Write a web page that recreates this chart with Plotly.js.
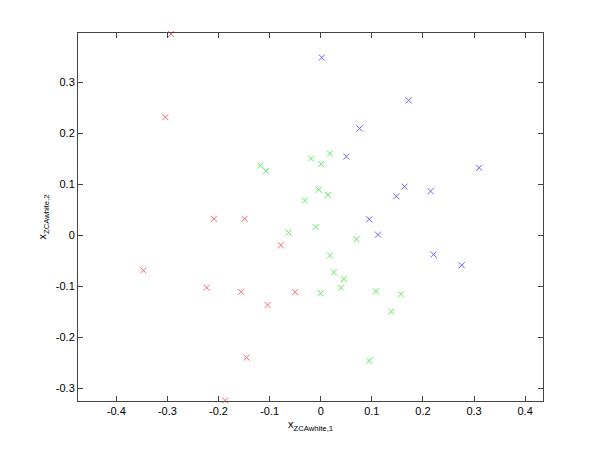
<!DOCTYPE html>
<html>
<head>
<meta charset="utf-8">
<script src="https://cdn.plot.ly/plotly-3.0.1.min.js"></script>
<style>html,body{margin:0;padding:0;background:#fff;}#chart{width:600px;height:450px;}</style>
</head>
<body>
<div id="chart"></div>
<script>
const redX = [-0.293, -0.304, -0.209, -0.149, -0.078, -0.347, -0.223, -0.156, -0.050, -0.104, -0.145, -0.187];
const redY = [0.394, 0.231, 0.032, 0.032, -0.020, -0.069, -0.103, -0.111, -0.112, -0.137, -0.240, -0.324];
const blueX = [0.002, 0.172, 0.076, 0.050, 0.310, 0.164, 0.215, 0.148, 0.095, 0.112, 0.221, 0.276];
const blueY = [0.348, 0.264, 0.209, 0.154, 0.132, 0.095, 0.086, 0.076, 0.031, 0.001, -0.038, -0.059];
const greenX = [-0.118, -0.107, -0.019, 0.001, 0.018, -0.004, 0.014, -0.031, -0.063, -0.010, 0.070, 0.018, 0.026, 0.045, 0.040, 0.000, 0.108, 0.157, 0.138, 0.095];
const greenY = [0.136, 0.126, 0.150, 0.139, 0.160, 0.089, 0.079, 0.068, 0.005, 0.016, -0.008, -0.040, -0.073, -0.086, -0.103, -0.114, -0.110, -0.116, -0.150, -0.246];
const xTicks = [-0.4, -0.3, -0.2, -0.1, 0, 0.1, 0.2, 0.3, 0.4];
const yTicks = [-0.3, -0.2, -0.1, 0, 0.1, 0.2, 0.3];

function series(x, y, color) {
  return {x: x, y: y, type: 'scatter', mode: 'markers', cliponaxis: false,
    marker: {symbol: 'x-thin', size: 6, line: {width: 1, color: color}, color: color}};
}
const axisCommon = {
  showgrid: false, zeroline: false, showline: true, mirror: 'allticks',
  linecolor: '#444', linewidth: 1, ticks: 'inside', ticklen: 5, tickcolor: '#444',
  tickfont: {family: 'Liberation Sans, Arial, sans-serif', size: 11, color: '#000'}
};
const layout = {
  width: 600, height: 450, showlegend: false,
  paper_bgcolor: '#fff', plot_bgcolor: '#fff',
  margin: {l: 78, r: 57, t: 33, b: 49},
  xaxis: Object.assign({}, axisCommon, {
    range: [-0.475, 0.435], tickvals: xTicks, ticktext: xTicks.map(String),
    title: {text: 'x<sub>ZCAwhite,1</sub>', standoff: 4, font: {family: 'Liberation Sans, Arial, sans-serif', size: 11, color: '#000'}}
  }),
  yaxis: Object.assign({}, axisCommon, {
    range: [-0.325, 0.396], tickvals: yTicks, ticktext: yTicks.map(String),
    title: {text: 'x<sub>ZCAwhite,2</sub>', standoff: 6, font: {family: 'Liberation Sans, Arial, sans-serif', size: 11, color: '#000'}}
  })
};
Plotly.newPlot('chart', [
  series(redX, redY, 'rgb(255,100,100)'),
  series(greenX, greenY, 'rgb(90,235,90)'),
  series(blueX, blueY, 'rgb(100,100,255)')
], layout, {staticPlot: true});
</script>
</body>
</html>
